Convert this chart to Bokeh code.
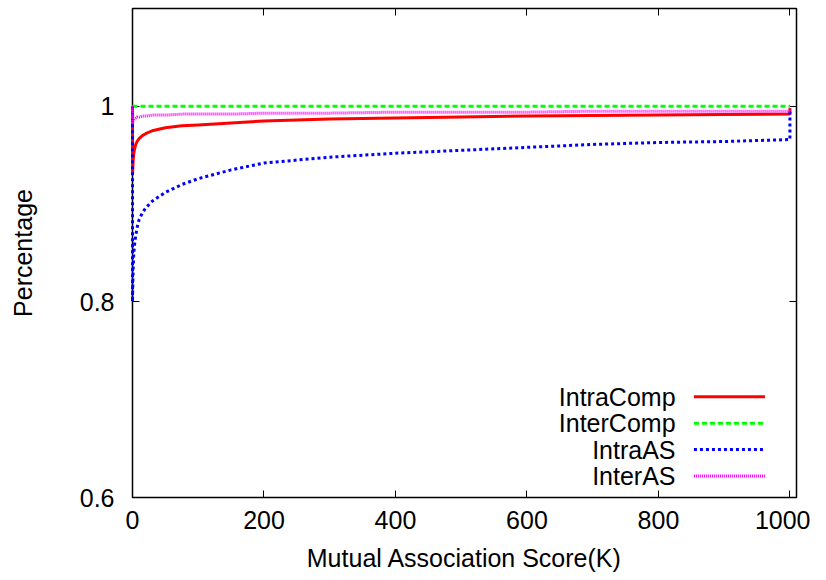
from bokeh.plotting import figure
from bokeh.models import Range1d, LinearAxis, FixedTicker, Label, CustomJSTickFormatter
from bokeh.embed import file_html
from bokeh.resources import INLINE

# ---- data ----
k_values = [0, 0, 1, 2, 3, 5, 7, 10, 15, 20, 30, 50, 75, 100, 150, 200,
            300, 400, 500, 600, 700, 800, 900, 1000, 1000]
intra_comp = [1.0, 0.930, 0.945, 0.952, 0.956, 0.961, 0.964, 0.967, 0.970, 0.972,
              0.975, 0.978, 0.980, 0.981, 0.983, 0.985, 0.987, 0.988, 0.989, 0.990,
              0.9905, 0.991, 0.9915, 0.992, 0.998]
inter_comp = [1.0] * len(k_values)
intra_as = [1.0, 0.800, 0.835, 0.850, 0.858, 0.868, 0.876, 0.884, 0.891, 0.896,
            0.903, 0.912, 0.920, 0.926, 0.935, 0.942, 0.948, 0.952, 0.955, 0.958,
            0.961, 0.963, 0.964, 0.966, 0.998]
inter_as = [1.0, 0.982, 0.985, 0.986, 0.987, 0.988, 0.989, 0.989, 0.990, 0.990,
            0.991, 0.991, 0.992, 0.992, 0.992, 0.993, 0.993, 0.994, 0.994, 0.994,
            0.995, 0.995, 0.995, 0.995, 0.996]

series_names = ["IntraComp", "InterComp", "IntraAS", "InterAS"]
x_ticks = [0, 200, 400, 600, 800, 1000]
y_ticks = [0.6, 0.8, 1.0]
y_tick_labels = ["0.6", "0.8", "1"]

FONT = "Liberation Sans"
FS = "25px"

p = figure(width=810, height=575, output_backend="svg", toolbar_location=None,
           x_range=Range1d(0, 1010), y_range=Range1d(0.6, 1.1),
           min_border_left=132, min_border_right=14, min_border_top=8,
           min_border_bottom=78)
p.xgrid.visible = False
p.ygrid.visible = False
p.outline_line_color = "black"
p.outline_line_width = 1.5
p.background_fill_color = "white"
p.border_fill_color = "white"

styles = [
    dict(color="#ff0000", line_dash="solid", line_width=3),
    dict(color="#00ff00", line_dash="5 3", line_width=3),
    dict(color="#0000ff", line_dash="3 3", line_width=3),
    dict(color="#ff00ff", line_dash="1 1", line_width=3),
]
all_series = [intra_comp, inter_comp, intra_as, inter_as]


def style_axis(ax):
    ax.major_tick_in = 7
    ax.major_tick_out = 0
    ax.minor_tick_in = 0
    ax.minor_tick_out = 0
    ax.axis_line_color = "black"
    ax.major_tick_line_color = "black"
    ax.major_label_text_font = FONT
    ax.major_label_text_font_size = FS
    ax.major_label_text_color = "black"
    ax.axis_label_text_font = FONT
    ax.axis_label_text_font_size = FS
    ax.axis_label_text_font_style = "normal"
    ax.axis_label_text_color = "black"


xa = p.xaxis[0]
style_axis(xa)
xa.ticker = FixedTicker(ticks=x_ticks)
xa.major_label_standoff = 13
xa.axis_label = "Mutual Association Score(K)"
xa.axis_label_standoff = 12

ya = p.yaxis[0]
style_axis(ya)
ya.ticker = FixedTicker(ticks=y_ticks)
ya.major_label_overrides = {t: l for t, l in zip(y_ticks, y_tick_labels)}
ya.major_label_standoff = 18
ya.axis_label = "Percentage"
ya.axis_label_standoff = 40

empty = CustomJSTickFormatter(code="return ''")
ra = LinearAxis(ticker=FixedTicker(ticks=y_ticks), formatter=empty)
style_axis(ra)
ra.major_label_standoff = 0
ra.major_label_text_font_size = "1px"
p.add_layout(ra, "right")
ta = LinearAxis(ticker=FixedTicker(ticks=x_ticks), formatter=empty)
style_axis(ta)
ta.major_label_standoff = 0
ta.major_label_text_font_size = "1px"
p.add_layout(ta, "above")

# data lines drawn above the frame border so the x=0 verticals show, like gnuplot
for ys, st in zip(all_series, styles):
    r = p.line(k_values, ys, line_color=st["color"], line_dash=st["line_dash"],
               line_width=st["line_width"])
    r.level = "overlay"

# legend (gnuplot style: text on the left, sample on the right)
leg_text_x = 826
leg_x0, leg_x1 = 854, 962
leg_rows = [0.703, 0.676, 0.649, 0.622]
for name, st, yy in zip(series_names, styles, leg_rows):
    p.add_layout(Label(x=leg_text_x, y=yy, text=name, text_align="right",
                       text_baseline="middle", text_font=FONT, text_font_size=FS,
                       text_color="black"))
    p.line([leg_x0, leg_x1], [yy, yy], line_color=st["color"],
           line_dash=st["line_dash"], line_width=st["line_width"])

open("out.html", "w").write(file_html(p, INLINE))
